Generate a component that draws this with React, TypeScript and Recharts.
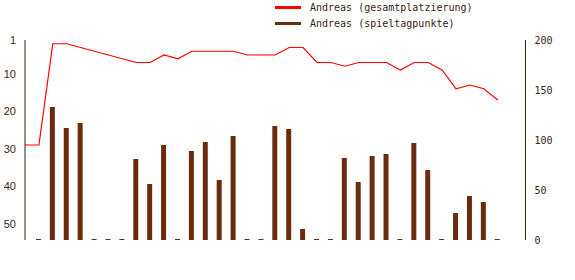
import React from "react";
import { ComposedChart, Bar, Line, XAxis, YAxis } from "recharts";

// matchday 0 is only the starting rank, bars begin at matchday 1
const matchdays = Array.from({ length: 35 }, (_, i) => i);
const rankValues = [
  29, 29, 2, 2, 3, 4, 5, 6, 7, 7, 5, 6, 4, 4, 4, 4, 5, 5, 5, 3, 3, 7, 7, 8, 7, 7, 7, 9, 7, 7, 9, 14, 13, 14, 17,
];
const pointValues = [
  null, 1, 133, 112, 117, 1, 1, 1, 81, 56, 95, 1, 89, 98, 60, 104, 1, 1, 114, 111, 11, 1, 1, 82, 58, 84, 86, 1, 97,
  70, 1, 27, 44, 38, 1,
];
const rankTicks = [1, 10, 20, 30, 40, 50];
const pointTicks = [0, 50, 100, 150, 200];

const seriesNames = ["Andreas (gesamtplatzierung)", "Andreas (spieltagpunkte)"];
const seriesColors = ["#ff0000", "#6b2c0e"];

const data = matchdays.map((d, i) => ({ day: d, rank: rankValues[i], points: pointValues[i] }));

const axisColor = "#3b1e0c";
const textColor = "#3b2314";
const mono = "'DejaVu Sans Mono', monospace";

export default function App() {
  return (
    <div style={{ position: "absolute", left: 0, top: 0, width: 575, height: 280, background: "#fff" }}>
      <div style={{ position: "absolute", left: 275, top: 0, fontFamily: mono, fontSize: 10, color: textColor }}>
        {seriesNames.map((name, i) => (
          <div key={name} style={{ display: "flex", alignItems: "center", height: 15, marginTop: i === 0 ? 0 : 1 }}>
            <span style={{ display: "inline-block", width: 26, height: 3, background: seriesColors[i], marginRight: 9 }} />
            <span>{name}</span>
          </div>
        ))}
      </div>
      <ComposedChart width={575} height={280} data={data} margin={{ top: 40, right: 0, bottom: 40, left: 0 }}>
        <XAxis
          dataKey="day"
          type="number"
          domain={[0, 36]}
          height={0}
          tick={false}
          tickLine={false}
          axisLine={{ stroke: axisColor }}
        />
        <YAxis
          yAxisId="rank"
          orientation="left"
          width={25}
          reversed
          type="number"
          domain={[1, 54.33]}
          ticks={rankTicks}
          allowDataOverflow
          tickLine={false}
          tickSize={0}
          tickMargin={9}
          axisLine={{ stroke: axisColor }}
          tick={{ fill: textColor, fontSize: 11, fontFamily: "'Liberation Sans', Arial, sans-serif" }}
        />
        <YAxis
          yAxisId="pts"
          orientation="right"
          width={49.5}
          type="number"
          domain={[0, 200]}
          ticks={pointTicks}
          tickLine={false}
          tickSize={0}
          tickMargin={9}
          axisLine={{ stroke: axisColor }}
          tick={{ fill: textColor, fontSize: 10, fontFamily: mono }}
        />
        <Bar yAxisId="pts" dataKey="points" fill={seriesColors[1]} barSize={5} isAnimationActive={false} />
        <Line
          yAxisId="rank"
          dataKey="rank"
          type="linear"
          stroke={seriesColors[0]}
          strokeWidth={1.2}
          dot={false}
          isAnimationActive={false}
        />
      </ComposedChart>
    </div>
  );
}
